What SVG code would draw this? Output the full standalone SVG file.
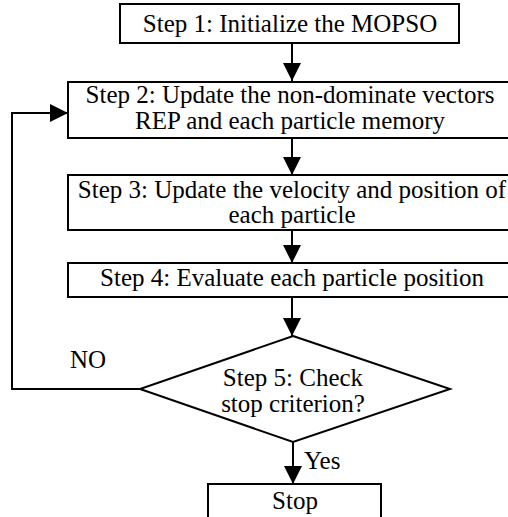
<svg xmlns="http://www.w3.org/2000/svg" width="508" height="517" viewBox="0 0 508 517">
<defs>
<marker id="ah" viewBox="0 0 18 18" markerWidth="18" markerHeight="18" refX="18" refY="9" orient="auto" markerUnits="userSpaceOnUse">
<path d="M0,0 L18,9 L0,18 Z" fill="#000"/>
</marker>
</defs>
<style>
.box{fill:#fff;stroke:#000;stroke-width:2}
.t{font-family:"Liberation Serif","Times New Roman",serif;font-size:25px;fill:#000;text-anchor:middle}
.c{fill:none;stroke:#000;stroke-width:2;marker-end:url(#ah)}
</style>
<rect width="508" height="517" fill="#fff"/>
<g id="connectors">
<line class="c" x1="292" y1="43" x2="292" y2="81"/>
<line class="c" x1="292" y1="138" x2="292" y2="175"/>
<line class="c" x1="292" y1="230" x2="292" y2="263"/>
<line class="c" x1="292" y1="297" x2="292" y2="336"/>
<polyline class="c" points="140,389 12,389 12,113 68,113"/>
<line class="c" x1="293" y1="442" x2="293" y2="484"/>
<text class="t" x="88" y="368">NO</text>
<text class="t" x="304" y="469" style="text-anchor:start">Yes</text>
</g>
<g id="step1">
<rect class="box" x="120" y="4" width="339" height="39"/>
<text class="t" x="290" y="32">Step 1: Initialize the MOPSO</text>
</g>
<g id="step2">
<rect class="box" x="68" y="82" width="450" height="56"/>
<text class="t" x="290" y="103">Step 2: Update the non-dominate vectors</text>
<text class="t" x="290" y="129">REP and each particle memory</text>
</g>
<g id="step3">
<rect class="box" x="68" y="175" width="450" height="55"/>
<text class="t" x="292" y="198">Step 3: Update the velocity and position of</text>
<text class="t" x="292" y="223">each particle</text>
</g>
<g id="step4">
<rect class="box" x="68" y="263" width="450" height="34"/>
<text class="t" x="292" y="286">Step 4: Evaluate each particle position</text>
</g>
<g id="step5">
<polygon class="box" points="293,336 450,389 293,442 140,389"/>
<text class="t" x="293" y="386">Step 5: Check</text>
<text class="t" x="293" y="412">stop criterion?</text>
</g>
<g id="stop">
<rect class="box" x="208" y="484" width="173" height="40"/>
<text class="t" x="295" y="509">Stop</text>
</g>
</svg>
